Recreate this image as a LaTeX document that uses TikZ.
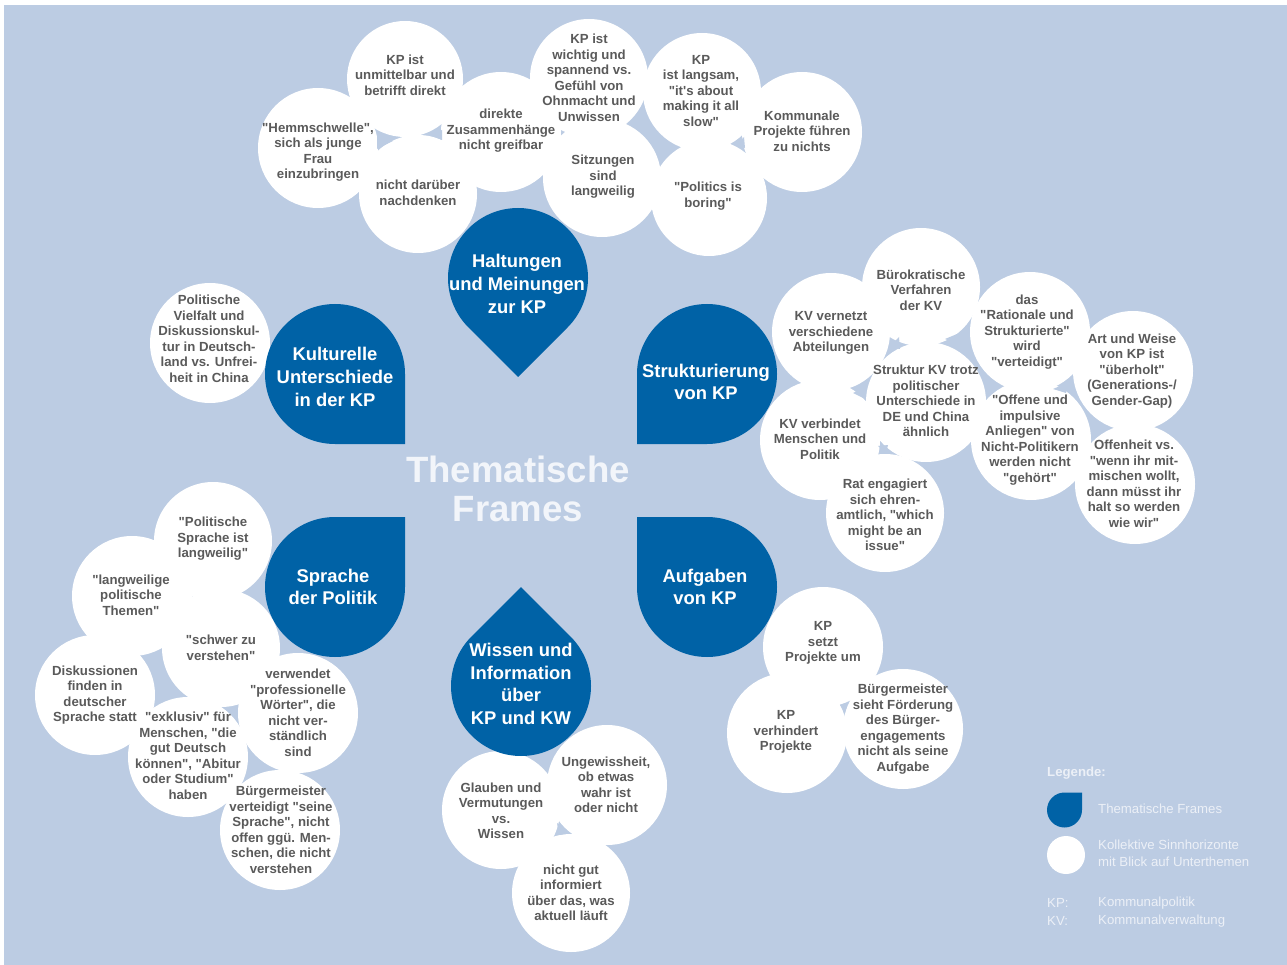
\documentclass[tikz,border=0pt]{standalone}
\usepackage{fontspec}
\defaultfontfeatures[\rmfamily]{}
\setmainfont{Liberation Sans}
\newfontfamily\lsans{Liberation Sans}
\newcommand\q{"}
\newcommand\ap{'}
\definecolor{bgc}{RGB}{188,204,227}
\definecolor{framec}{RGB}{0,98,166}
\definecolor{txtc}{RGB}{90,90,90}
\definecolor{legc}{RGB}{236,240,247}
\definecolor{bigc}{RGB}{242,245,250}
\tikzset{
  bub/.style={circle, fill=white, inner sep=0pt, minimum size=#1},
  btxt/.style={align=center, text=txtc, font=\lsans\fontsize{13.2}{15.5}\selectfont\bfseries, inner sep=0pt},
  ftxt/.style={align=center, text=white, font=\lsans\fontsize{18.4}{22.6}\selectfont\bfseries, inner sep=0pt},
  bigtxt/.style={align=center, text=bigc, font=\lsans\fontsize{36.6}{39}\selectfont\bfseries, inner sep=0pt},
  legtxt/.style={anchor=west, align=left, text=legc, font=\lsans\fontsize{13.2}{17.5}\selectfont, inner sep=0pt},
  legbold/.style={anchor=west, text=legc, font=\lsans\fontsize{13.2}{17.5}\selectfont\bfseries, inner sep=0pt},
  notch/.style={fill=bgc},
  framefill/.style={fill=framec},
}
% drop shape: centre x, centre y, radius, direction of the square tip
\newcommand\dropshape[4]{%
  \fill[framefill] (#1,#2) ++(#4:{1.41421*#3}) -- ++(#4+135:#3)
    arc[start angle=#4+45, delta angle=270, radius=#3] -- cycle;}
\begin{document}
\begin{tikzpicture}[x=1pt,y=-1pt]
\useasboundingbox (0,0) rectangle (1287,965);
\fill[bgc] (4,5) rectangle (1287,965);

% white bubbles
\foreach \n/\x/\y/\r in {
  b1/405/79/58, b2/318/148/60, b3/418/194/59, b4/501/132/60, b5/589/78/59,
  b6/602/178/59, b7/702/92/59, b8/802/132/60, b9/709/198/58, b10/210/343/60,
  b11/921/287/59, b12/831/332/59, b13/926/402/60, b14/820/440/60, b15/885/513/59,
  b16/1030/332/60, b17/1031/440/60, b18/1133/371/60, b19/1135/484/60,
  b20/213/541/59, b21/132/596/60, b22/221/648/59, b23/95/695/60, b24/298/713/60,
  b25/188/757/60, b26/280/830/60, b27/501/810/59, b28/607/785/60, b29/571/893/59,
  b30/823/647/60, b31/787/733/60, b32/903/729/60}
  {\node[bub={2*\r}] (\n) at (\x,\y) {};}

% small notches
\fill[notch] (377,132) -- (377,149) -- (393,141) -- cycle;
\fill[notch] (430,135) -- (442,130) -- (442,140) -- cycle;
\fill[notch] (736,145) -- (744,137) -- (745,148) -- cycle;
\fill[notch] (889,347) -- (899,337) -- (900,349) -- cycle;
\fill[notch] (945,339) -- (957,334) -- (957,344) -- cycle;
\fill[notch] (853,393) -- (865,387) -- (865,399) -- cycle;
\fill[notch] (878,446) -- (888,445) -- (886,453) -- cycle;
\fill[notch] (988,381) -- (1000,386) -- (992,393) -- cycle;
\fill[notch] (1053,389) -- (1067,383) -- (1066,393) -- cycle;
\fill[notch] (557,823) -- (570,833) -- (559,835) -- cycle;
\fill[notch] (840,705) -- (847,703) -- (845,713) -- cycle;

% frames
\dropshape{518}{278}{70}{90}
\dropshape{335}{374}{70}{45}
\dropshape{707}{374}{70}{135}
\dropshape{335}{587}{70}{315}
\dropshape{707}{587}{70}{225}
\dropshape{521}{686}{70}{270}

% bubble texts
\node[btxt] (t1) at (405,75) {KP ist\\unmittelbar und\\betrifft direkt};
\node[btxt] (t2) at (318,152) {\q Hemmschwelle\q,\\sich als junge\\Frau\\einzubringen};
\node[btxt] (t3) at (418,193) {nicht darüber\\nachdenken};
\node[btxt] (t4) at (501,131) {direkte\\Zusammenhänge\\nicht greifbar};
\node[btxt] (t5) at (589,78) {KP ist\\wichtig und\\spannend vs.\\Gefühl von\\Ohnmacht und\\Unwissen};
\node[btxt] (t6) at (603,177) {Sitzungen\\sind\\langweilig};
\node[btxt] (t7) at (701,91) {KP\\ist langsam,\\\q it\ap s about\\making it all\\slow\q};
\node[btxt] (t8) at (802,131) {Kommunale\\Projekte führen\\zu nichts};
\node[btxt] (t9) at (708,196) {\q Politics is\\boring\q};
\node[btxt] (t10) at (209,339) {Politische\\Vielfalt und\\Diskussionskul-\\tur in Deutsch-\\land vs. Unfrei-\\heit in China};
\node[btxt] (t11) at (921,290) {Bürokratische\\Verfahren\\der KV};
\node[btxt] (t12) at (831,333) {KV vernetzt\\verschiedene\\Abteilungen};
\node[btxt] (t13) at (926,401) {Struktur KV trotz\\politischer\\Unterschiede in\\DE und China\\ähnlich};
\node[btxt] (t14) at (820,439) {KV verbindet\\Menschen und\\Politik};
\node[btxt] (t15) at (885,515) {Rat engagiert\\sich ehren-\\amtlich, \q which\\might be an\\issue\q};
\node[btxt] (t16) at (1027,332) {das\\\q Rationale und\\Strukturierte\q\\wird\\\q verteidigt\q};
\node[btxt] (t17) at (1030,440) {\q Offene und\\impulsive\\Anliegen\q{} von\\Nicht-Politikern\\werden nicht\\\q gehört\q};
\node[btxt] (t18) at (1132,371) {Art und Weise\\von KP ist\\\q überholt\q\\(Generations-/\\Gender-Gap)};
\node[btxt] (t19) at (1134,484) {Offenheit vs.\\\q wenn ihr mit-\\mischen wollt,\\dann müsst ihr\\halt so werden\\wie wir\q};
\node[btxt] (t20) at (213,539) {\q Politische\\Sprache ist\\langweilig\q};
\node[btxt] (t21) at (131,595) {\q langweilige\\politische\\Themen\q};
\node[btxt] (t22) at (221,648) {\q schwer zu\\verstehen\q};
\node[btxt] (t23) at (95,695) {Diskussionen\\finden in\\deutscher\\Sprache statt};
\node[btxt] (t24) at (298,713) {verwendet\\\q professionelle\\Wörter\q, die\\nicht ver-\\ständlich\\sind};
\node[btxt] (t25) at (188,756) {\q exklusiv\q{} für\\Menschen, \q die\\gut Deutsch\\können\q, \q Abitur\\oder Studium\q\\haben};
\node[btxt] (t26) at (281,830) {Bürgermeister\\verteidigt \q seine\\Sprache\q, nicht\\offen ggü. Men-\\schen, die nicht\\verstehen};
\node[btxt] (t27) at (501,811) {Glauben und\\Vermutungen\\vs.\\Wissen};
\node[btxt] (t28) at (606,785) {Ungewissheit,\\ob etwas\\wahr ist\\oder nicht};
\node[btxt] (t29) at (571,893) {nicht gut\\informiert\\über das, was\\aktuell läuft};
\node[btxt] (t30) at (823,643) {KP\\setzt\\Projekte um};
\node[btxt] (t31) at (786,732) {KP\\verhindert\\Projekte};
\node[btxt] (t32) at (903,729) {Bürgermeister\\sieht Förderung\\des Bürger-\\engagements\\nicht als seine\\Aufgabe};

% frame texts
\node[ftxt] (f1) at (517,284) {Haltungen\\und Meinungen\\zur KP};
\node[ftxt] (f2) at (335,377) {Kulturelle\\Unterschiede\\in der KP};
\node[ftxt] (f3) at (706,382) {Strukturierung\\von KP};
\node[ftxt] (f4) at (333,587) {Sprache\\der Politik};
\node[ftxt] (f5) at (705,587) {Aufgaben\\von KP};
\node[ftxt] (f6) at (521,684) {Wissen und\\Information\\über\\KP und KW};
\node[bigtxt] (title) at (518,489) {Thematische\\Frames};

% legend
\node[legbold] (lg) at (1047,773) {Legende:};
\dropshape{1064.5}{810}{17.5}{315}
\node[bub=38] (lgc) at (1066,855) {};
\node[legtxt] (lg1) at (1098,809) {Thematische Frames};
\node[legtxt] (lg2) at (1098,853.5) {Kollektive Sinnhorizonte\\mit Blick auf Unterthemen};
\node[legtxt] (lg3) at (1047,903) {KP:};
\node[legtxt] (lg4) at (1047,921) {KV:};
\node[legtxt] (lg5) at (1098,903) {Kommunalpolitik};
\node[legtxt] (lg6) at (1098,921) {Kommunalverwaltung};
\end{tikzpicture}
\end{document}
